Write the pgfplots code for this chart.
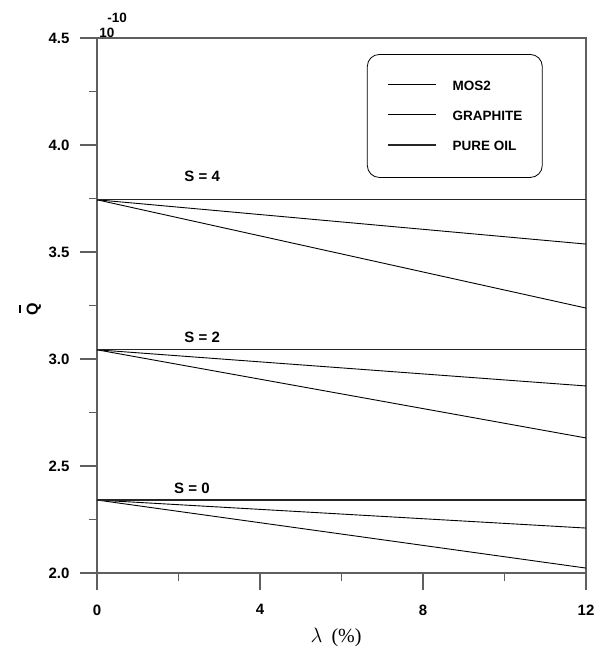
\documentclass[border=0pt]{standalone}
\usepackage{fontspec}
\setmainfont{Liberation Sans}
\newfontfamily\seriffont{Liberation Serif}
\usepackage{pgfplots}
\pgfplotsset{compat=1.18}
\definecolor{axgray}{RGB}{95,95,95}
\begin{document}
\begin{tikzpicture}[x=1pt,y=1pt]
\path[use as bounding box] (-97,-78) rectangle (504,573);
\begin{axis}[
  at={(0,0)}, anchor=south west,
  scale only axis, width=489pt, height=535pt,
  xmin=0, xmax=12, ymin=2, ymax=4.5,
  clip=false,
  xtick={0,4,8,12}, minor xtick={2,6,10},
  ytick={2,2.5,3,3.5,4,4.5}, minor ytick={2.25,2.75,3.25,3.75,4.25},
  xticklabels={0,4,8,12}, yticklabels={2.0,2.5,3.0,3.5,4.0,4.5},
  xtick pos=lower, ytick pos=left,
  tick align=outside, major tick length=17pt, minor tick length=8pt,
  tick style={axgray, line width=1.1pt},
  axis line style={axgray, line width=1.1pt},
  /pgf/number format/assume math mode=true,
  tick label style={font=\bfseries\fontsize{15}{15}\selectfont},
  xticklabel style={yshift=-11pt},
  yticklabel style={xshift=-7pt},
  ylabel={\shortstack{\rule{8pt}{1.8pt}\\[3pt]Q}},
  ylabel style={at={(axis description cs:-0.137,0.4935)}, anchor=center,
    font=\bfseries\fontsize{16}{16}\selectfont},
  legend style={at={(axis description cs:0.552,0.970)}, anchor=north west,
    draw=black, line width=0.8pt, rounded corners=12pt,
    inner xsep=20pt, inner ysep=26.5pt,
    font=\bfseries\fontsize{13.5}{13.5}\selectfont,
    row sep=20pt, column sep=16pt,
    nodes={inner sep=0pt, text height=10pt, text depth=0pt}},
  legend cell align=left,
  legend image code/.code={\draw[#1] (0pt,1pt) -- (48pt,1pt);},
]
% S = 4
\addplot[black, line width=0.9pt] coordinates {(0,3.744) (12,3.537)};
\addlegendentry{MOS2}
\addplot[black, line width=0.9pt] coordinates {(0,3.744) (12,3.238)};
\addlegendentry{GRAPHITE}
\addplot[black!85, line width=1.2pt] coordinates {(0,3.744) (12,3.744)};
\addlegendentry{PURE OIL}
% S = 2
\addplot[black, line width=0.9pt, forget plot] coordinates {(0,3.043) (12,2.874)};
\addplot[black, line width=0.9pt, forget plot] coordinates {(0,3.043) (12,2.631)};
\addplot[black!85, line width=1.2pt, forget plot] coordinates {(0,3.043) (12,3.043)};
% S = 0
\addplot[black, line width=0.9pt, forget plot] coordinates {(0,2.341) (12,2.210)};
\addplot[black, line width=0.9pt, forget plot] coordinates {(0,2.341) (12,2.023)};
\addplot[black!85, line width=1.2pt, forget plot] coordinates {(0,2.341) (12,2.341)};

\node[font=\bfseries\fontsize{15}{15}\selectfont] at (axis cs:2.58,3.855) {S = 4};
\node[font=\bfseries\fontsize{15}{15}\selectfont] at (axis cs:2.58,3.103) {S = 2};
\node[font=\bfseries\fontsize{15}{15}\selectfont] at (axis cs:2.33,2.397) {S = 0};

\node[font=\bfseries\fontsize{13.5}{13.5}\selectfont] at (axis description cs:0.0204,1.0093) {10};
\node[font=\bfseries\fontsize{13.5}{13.5}\selectfont] at (axis description cs:0.041,1.0374) {-10};

\node[font=\seriffont\fontsize{20}{20}\selectfont] at (axis description cs:0.489,-0.1196) {$\lambda$\hspace{9pt}(\%)};
\end{axis}
\end{tikzpicture}
\end{document}
